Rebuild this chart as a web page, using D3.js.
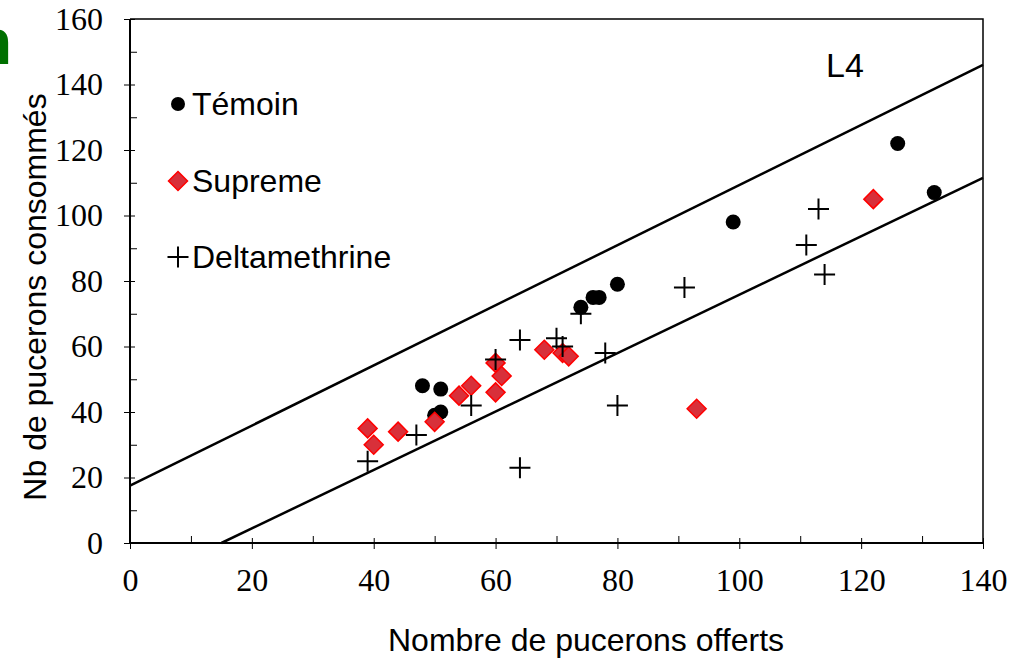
<!DOCTYPE html>
<html>
<head>
<meta charset="utf-8">
<script src="https://cdn.jsdelivr.net/npm/d3@7"></script>
<style>
  body { margin: 0; background: #fff; }
  svg { display: block; }
</style>
</head>
<body>
<svg id="chart" width="1024" height="661"></svg>
<script>
// points: [offered, consumed]
const temoin = [[48, 48], [51, 47], [51, 40], [50, 39], [74, 72], [76, 75], [77, 75], [80, 79], [99, 98], [126, 122], [132, 107]];
const supreme = [[39, 35], [40, 30], [44, 34], [50, 37], [54, 45], [56, 48], [60, 46], [60, 55], [61, 51], [68, 59], [71, 58], [72, 57], [93, 41], [122, 105]];
const deltamethrine = [[39, 25], [47, 33], [56, 42], [60, 56], [64, 62], [64, 23], [70, 62.5], [71, 60], [74, 70], [78, 58], [80, 42], [91, 78], [111, 91], [113, 102], [114, 82]];

// the two limit lines
const upperLine = [[0, 17.5], [140, 146]];
const lowerLine = [[15, 0], [140, 111.5]];

const xMajor = [0, 20, 40, 60, 80, 100, 120, 140];
const xMinor = [10, 30, 50, 70, 90, 110, 130];
const yMajor = [0, 20, 40, 60, 80, 100, 120, 140, 160];
const yMinor = [10, 30, 50, 70, 90, 110, 130, 150];

const legendNames = ['Témoin', 'Supreme', 'Deltamethrine'];

const svg = d3.select('#chart');
const margin = { top: 19, right: 41, bottom: 118, left: 130 };
const W = 1024, H = 661;

const x = d3.scaleLinear().domain([0, 140]).range([margin.left, W - margin.right]);
const y = d3.scaleLinear().domain([0, 160]).range([H - margin.bottom, margin.top]);

const sans = '"Liberation Sans", Arial, sans-serif';
const serif = '"Liberation Serif", "Times New Roman", serif';

// green glyph cut at the left edge (as in the source slide)
svg.append('text')
    .attr('x', 12).attr('y', 64)
    .attr('text-anchor', 'end')
    .attr('font-family', sans).attr('font-weight', 'bold').attr('font-size', 64)
    .attr('fill', '#007000')
    .text('n');

// frame: top and right
svg.append('path')
    .attr('d', `M${x(0)},${y(160)}H${x(140)}V${y(0)}`)
    .attr('fill', 'none').attr('stroke', '#000').attr('stroke-width', 1.5);

// x axis: outside part of major ticks with labels
const gx = svg.append('g').attr('transform', `translate(0,${y(0)})`)
    .call(d3.axisBottom(x).tickValues(xMajor).tickSize(6).tickPadding(19).tickFormat(d3.format('d')));
// inside ticks
const gxi = svg.append('g').attr('transform', `translate(0,${y(0)})`)
    .call(d3.axisTop(x).tickValues(xMajor).tickSize(5).tickFormat(''));
const gxm = svg.append('g').attr('transform', `translate(0,${y(0)})`)
    .call(d3.axisTop(x).tickValues(xMinor).tickSize(7).tickFormat(''));

const gy = svg.append('g').attr('transform', `translate(${x(0)},0)`)
    .call(d3.axisLeft(y).tickValues(yMajor).tickSize(6).tickPadding(21).tickFormat(d3.format('d')));
const gyi = svg.append('g').attr('transform', `translate(${x(0)},0)`)
    .call(d3.axisRight(y).tickValues(yMajor).tickSize(5).tickFormat(''));
const gym = svg.append('g').attr('transform', `translate(${x(0)},0)`)
    .call(d3.axisRight(y).tickValues(yMinor).tickSize(7).tickFormat(''));

[gx, gxi, gxm, gy, gyi, gym].forEach(g => {
    g.select('.domain').remove();
    g.selectAll('.tick line').attr('stroke', '#000').attr('stroke-width', 1);
    g.selectAll('.tick text').attr('font-family', serif).attr('font-size', 32).attr('fill', '#000');
});

// axis lines
svg.append('line')
    .attr('x1', x(0)).attr('x2', x(140)).attr('y1', y(0)).attr('y2', y(0))
    .attr('stroke', '#000').attr('stroke-width', 2);
svg.append('line')
    .attr('x1', x(0)).attr('x2', x(0)).attr('y1', y(0)).attr('y2', y(160))
    .attr('stroke', '#000').attr('stroke-width', 2);

// limit lines
const line = d3.line().x(d => x(d[0])).y(d => y(d[1]));
[upperLine, lowerLine].forEach(l => {
    svg.append('path')
        .attr('d', line(l))
        .attr('fill', 'none').attr('stroke', '#000').attr('stroke-width', 2.5);
});

// markers
const diamond = s => `M0,${-s}L${s},0L0,${s}L${-s},0Z`;
const plus = s => `M${-s},0H${s}M0,${-s}V${s}`;

function drawCircle(g, cx, cy) {
    g.append('circle').attr('cx', cx).attr('cy', cy).attr('r', 7.5).attr('fill', '#000');
}
function drawDiamond(g, cx, cy) {
    g.append('path').attr('d', diamond(9.5))
        .attr('transform', `translate(${cx},${cy})`)
        .attr('fill', '#d8303a').attr('stroke', '#ff0000').attr('stroke-width', 1.5);
}
function drawPlus(g, cx, cy) {
    g.append('path').attr('d', plus(10.5))
        .attr('transform', `translate(${cx},${cy})`)
        .attr('fill', 'none').attr('stroke', '#000').attr('stroke-width', 2);
}

const pts = svg.append('g');
temoin.forEach(d => drawCircle(pts, x(d[0]), y(d[1])));
supreme.forEach(d => drawDiamond(pts, x(d[0]), y(d[1])));
deltamethrine.forEach(d => drawPlus(pts, x(d[0]), y(d[1])));

// legend
const legend = svg.append('g');
const drawers = [drawCircle, drawDiamond, drawPlus];
const legendY = [104, 181, 257];
legendNames.forEach((name, i) => {
    if (i === 0) legend.append('circle').attr('cx', 178).attr('cy', legendY[i]).attr('r', 7).attr('fill', '#000');
    else drawers[i](legend, 178, legendY[i]);
    legend.append('text')
        .attr('x', 192).attr('y', legendY[i] + 11)
        .attr('font-family', sans).attr('font-size', 32)
        .text(name);
});

// L4 label
svg.append('text')
    .attr('x', 826).attr('y', 77)
    .attr('font-family', sans).attr('font-size', 34)
    .text('L4');

// axis titles
svg.append('text')
    .attr('x', 586).attr('y', 651)
    .attr('text-anchor', 'middle')
    .attr('font-family', sans).attr('font-size', 32)
    .text('Nombre de pucerons offerts');

svg.append('text')
    .attr('transform', `translate(46,${297}) rotate(-90)`)
    .attr('text-anchor', 'middle')
    .attr('font-family', sans).attr('font-size', 32)
    .text('Nb de pucerons consommés');
</script>
</body>
</html>
